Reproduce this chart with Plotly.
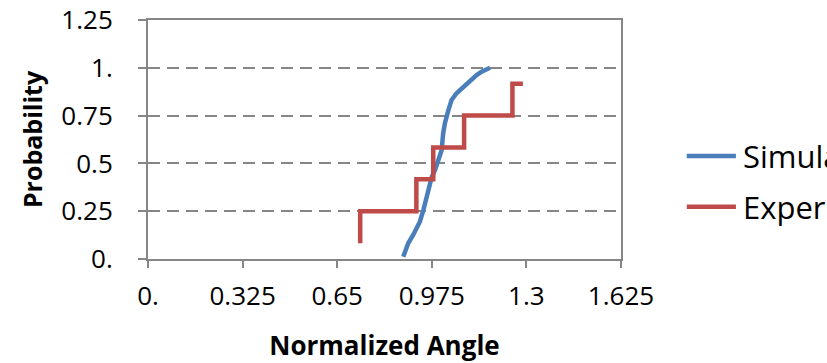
import plotly.graph_objects as go

# Simulated cumulative distribution of the normalized angle
sim_angle = [0.877, 0.894, 0.911, 0.923, 0.934, 0.946, 0.957, 0.963, 0.975, 0.986,
             0.997, 1.009, 1.014, 1.020, 1.032, 1.043, 1.060, 1.078, 1.095, 1.112,
             1.129, 1.146, 1.163, 1.175]
sim_prob = [0.012, 0.082, 0.126, 0.161, 0.195, 0.256, 0.326, 0.378, 0.430, 0.465,
            0.518, 0.570, 0.657, 0.710, 0.779, 0.832, 0.867, 0.893, 0.919, 0.936,
            0.962, 0.980, 0.992, 1.000]

# Experimental empirical CDF (step function)
exp_angle = [0.729, 0.729, 0.922, 0.980, 1.086, 1.252, 1.288]
exp_prob = [0.083, 0.250, 0.417, 0.583, 0.750, 0.917, 0.917]

x_ticks = [0, 0.325, 0.65, 0.975, 1.3, 1.625]
x_labels = ["0.", "0.325", "0.65", "0.975", "1.3", "1.625"]
y_ticks = [0, 0.25, 0.5, 0.75, 1.0, 1.25]
y_labels = ["0.", "0.25", "0.5", "0.75", "1.", "1.25"]

series_names = ["Simulation", "Experiment"]
series_colors = ["#4A7EBB", "#BE4B48"]

AXIS_GRAY = "#868686"
FONT = "Open Sans"

fig = go.Figure()
fig.add_trace(go.Scatter(x=sim_angle, y=sim_prob, mode="lines", name=series_names[0],
                         line=dict(color=series_colors[0], width=4.5), showlegend=False))
fig.add_trace(go.Scatter(x=exp_angle, y=exp_prob, mode="lines", name=series_names[1],
                         line=dict(color=series_colors[1], width=4.5, shape="hv"),
                         showlegend=False))

# Legend drawn by hand to the right of the plot area
legend_rows = [0.431, 0.219]
for name, color, yy in zip(series_names, series_colors, legend_rows):
    fig.add_shape(type="line", xref="paper", yref="paper", x0=1.139, x1=1.243,
                  y0=yy, y1=yy, line=dict(color=color, width=4.5))
    fig.add_annotation(xref="paper", yref="paper", x=1.253, y=yy, text=name,
                       showarrow=False, xanchor="left", yanchor="middle",
                       font=dict(family=FONT, size=31, color="#000000"))

fig.update_xaxes(
    range=[0, 1.625], tickvals=x_ticks, ticktext=x_labels,
    showgrid=False, zeroline=False,
    showline=True, linecolor=AXIS_GRAY, linewidth=2, mirror=True,
    ticks="outside", ticklen=7, tickwidth=2, tickcolor=AXIS_GRAY,
    ticklabelstandoff=6,
    tickfont=dict(family=FONT, size=26, color="#000000"),
    title=dict(text="<b>Normalized Angle</b>", standoff=25,
               font=dict(family=FONT, size=26, color="#000000")),
)
fig.update_yaxes(
    range=[0, 1.25], tickvals=y_ticks, ticktext=y_labels,
    showgrid=True, gridcolor=AXIS_GRAY, gridwidth=2, griddash="12px,7px",
    zeroline=False,
    showline=True, linecolor=AXIS_GRAY, linewidth=2, mirror=True,
    ticks="outside", ticklen=8, tickwidth=2, tickcolor=AXIS_GRAY,
    ticklabelstandoff=20,
    tickfont=dict(family=FONT, size=26, color="#000000"),
    title=dict(text="<b>Probability</b>", standoff=12,
               font=dict(family=FONT, size=25, color="#000000")),
)

fig.update_layout(
    width=827, height=363,
    margin=dict(l=148, r=206, t=20, b=104, autoexpand=False),
    paper_bgcolor="#FFFFFF", plot_bgcolor="#FFFFFF",
    showlegend=False,
)

fig.write_html("out.html")
